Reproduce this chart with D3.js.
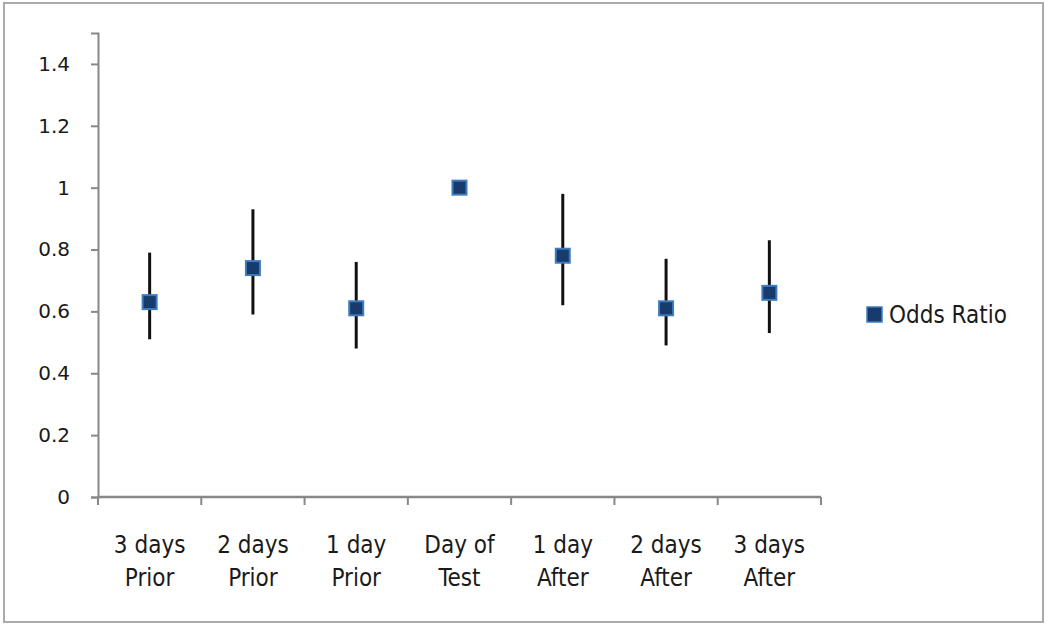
<!DOCTYPE html>
<html>
<head>
<script src="https://cdn.jsdelivr.net/npm/d3@7"></script>
<style>
  body { margin: 0; background: #fff; }
  text { font-family: "Liberation Sans Narrow", "DejaVu Sans Condensed", sans-serif; fill: #1a1a1a; }
</style>
</head>
<body>
<svg id="chart" width="1050" height="627"></svg>
<script>
// data
var categories = [["3 days", "Prior"], ["2 days", "Prior"], ["1 day", "Prior"], ["Day of", "Test"],
                  ["1 day", "After"], ["2 days", "After"], ["3 days", "After"]];
var oddsRatio = [0.63, 0.74, 0.61, 1.0, 0.78, 0.61, 0.66];
var lower     = [0.51, 0.59, 0.48, null, 0.62, 0.49, 0.53];
var upper     = [0.79, 0.93, 0.76, null, 0.98, 0.77, 0.83];
var yTicks    = [0, 0.2, 0.4, 0.6, 0.8, 1, 1.2, 1.4];

var svg = d3.select("#chart");

// outer frame
svg.append("rect")
   .attr("x", 4).attr("y", 3).attr("width", 1039).attr("height", 619)
   .attr("fill", "none").attr("stroke", "#aaa").attr("stroke-width", 2);

var x = d3.scaleBand().domain(d3.range(categories.length)).range([98, 821]);
var y = d3.scaleLinear().domain([0, 1.5]).range([497, 33]);

// y axis
var gy = svg.append("g").attr("transform", "translate(98,0)")
   .call(d3.axisLeft(y).tickValues(yTicks).tickSize(7).tickPadding(21)
         .tickFormat(function(d){ return String(d); }));
gy.selectAll("path, line").attr("stroke", "#888").attr("stroke-width", 2);
gy.selectAll("text").style("font-family", "DejaVu Sans").style("font-size", "20px").attr("fill", "#1a1a1a");

// x axis
var gx = svg.append("g").attr("transform", "translate(0,497)");
gx.append("line").attr("x1", 98).attr("x2", 821).attr("stroke", "#888").attr("stroke-width", 2.5);
gx.selectAll(".tk").data(d3.range(categories.length + 1)).enter().append("line")
  .attr("x1", function(i){ return i < categories.length ? x(i) : x.range()[1]; })
  .attr("x2", function(i){ return i < categories.length ? x(i) : x.range()[1]; })
  .attr("y1", 0).attr("y2", 8).attr("stroke", "#888").attr("stroke-width", 2);

var lbl = svg.append("g").selectAll("text").data(categories).enter().append("text")
   .attr("text-anchor", "middle").style("font-size", "24px");
lbl.append("tspan")
   .attr("x", function(d, i){ return x(i) + x.bandwidth() / 2; })
   .attr("y", 553).text(function(d){ return d[0]; });
lbl.append("tspan")
   .attr("x", function(d, i){ return x(i) + x.bandwidth() / 2; })
   .attr("y", 586).text(function(d){ return d[1]; });

// error bars
svg.append("g").selectAll("line").data(d3.range(oddsRatio.length).filter(function(i){ return lower[i] != null; }))
   .enter().append("line")
   .attr("x1", function(i){ return x(i) + x.bandwidth() / 2; })
   .attr("x2", function(i){ return x(i) + x.bandwidth() / 2; })
   .attr("y1", function(i){ return y(upper[i]); })
   .attr("y2", function(i){ return y(lower[i]); })
   .attr("stroke", "#111").attr("stroke-width", 3);

// markers
svg.append("g").selectAll("rect").data(oddsRatio).enter().append("rect")
   .attr("x", function(d, i){ return x(i) + x.bandwidth() / 2 - 7; })
   .attr("y", function(d){ return y(d) - 7; })
   .attr("width", 14).attr("height", 14)
   .attr("fill", "#173b6c").attr("stroke", "#3f7cbd").attr("stroke-width", 2);

// legend
svg.append("rect").attr("x", 867).attr("y", 307).attr("width", 15).attr("height", 15)
   .attr("fill", "#173b6c").attr("stroke", "#3f7cbd").attr("stroke-width", 1.5);
svg.append("text").attr("x", 889).attr("y", 323).style("font-size", "24px").text("Odds Ratio");
</script>
</body>
</html>
